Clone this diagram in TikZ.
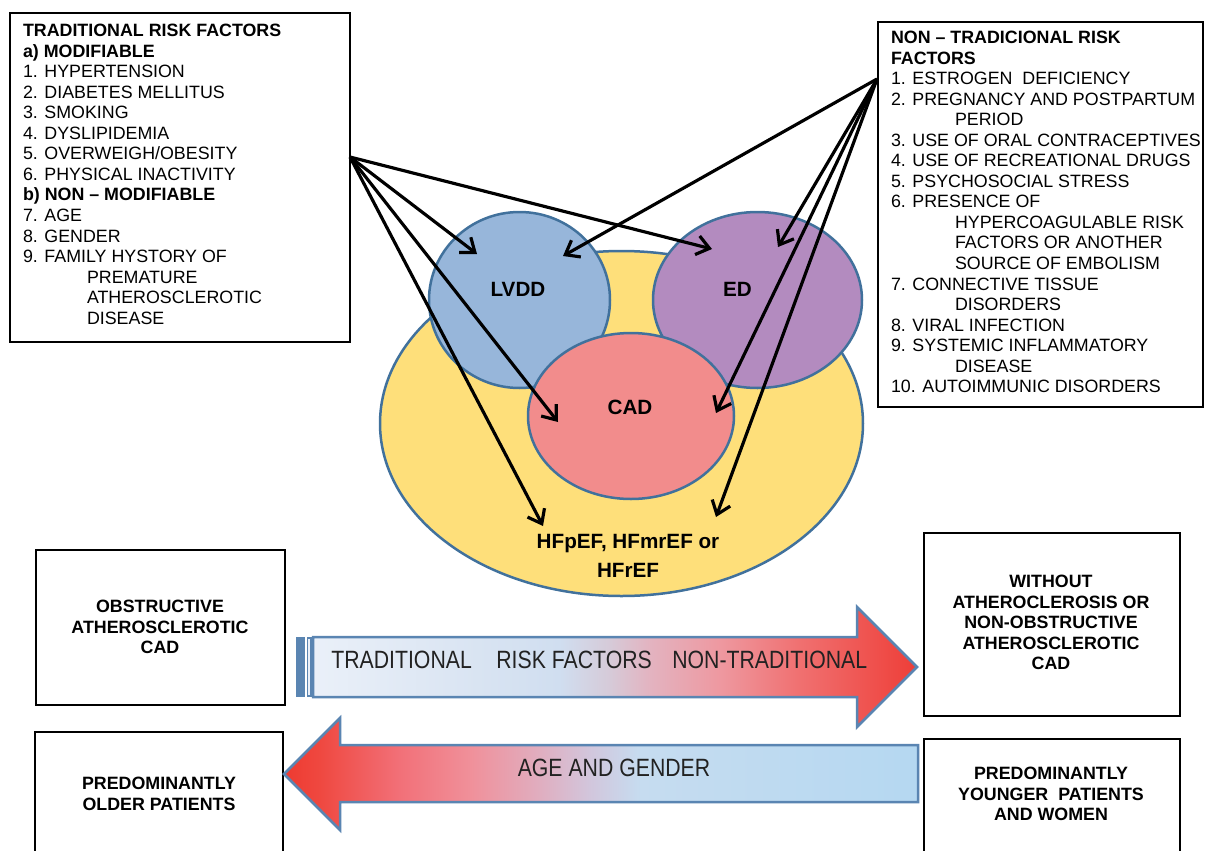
\documentclass[tikz,border=0pt]{standalone}
\usepackage{fontspec}
\setmainfont{Liberation Sans}
\newfontfamily\narrowfont[FakeStretch=0.85]{Liberation Sans}
\usetikzlibrary{shapes.geometric,arrows.meta}
\definecolor{outl}{HTML}{41719C}
\definecolor{yel}{HTML}{FEDF7A}
\definecolor{lvddc}{HTML}{97B6DA}
\definecolor{edc}{HTML}{B38BBF}
\definecolor{cadc}{HTML}{F28C8C}
\definecolor{arrowoutl}{HTML}{5A85B2}
\definecolor{arrtext}{HTML}{222222}
\definecolor{ra}{HTML}{EAF0F9}
\definecolor{rb}{HTML}{DCE6F3}
\definecolor{rc}{HTML}{D0DEF0}
\definecolor{rd}{HTML}{D6CAD8}
\definecolor{re}{HTML}{E3B3C0}
\definecolor{rf}{HTML}{EE98A0}
\definecolor{rg}{HTML}{F07070}
\definecolor{rh}{HTML}{EE3E38}
\definecolor{la}{HTML}{EE3A30}
\definecolor{lb}{HTML}{EF4840}
\definecolor{lc}{HTML}{F27078}
\definecolor{ld}{HTML}{F0909A}
\definecolor{le}{HTML}{E0AEC0}
\definecolor{lf}{HTML}{D2C6DC}
\definecolor{lg}{HTML}{C6DCF0}
\definecolor{lh}{HTML}{B5D8F1}
\pgfdeclarehorizontalshading{rgrad}{100bp}{color(0bp)=(ra); color(25bp)=(ra); color(36.3bp)=(rb); color(45.4bp)=(rc); color(49.6bp)=(rd); color(52.9bp)=(re); color(58.7bp)=(rf); color(65.3bp)=(rg); color(75bp)=(rh); color(100bp)=(rh)}
\pgfdeclarehorizontalshading{lgrad}{100bp}{color(0bp)=(la); color(25bp)=(la); color(27.8bp)=(lb); color(34.1bp)=(lc); color(39.7bp)=(ld); color(45.2bp)=(le); color(49.1bp)=(lf); color(53.1bp)=(lg); color(75bp)=(lh); color(100bp)=(lh)}
\newcommand\listfont{\fontsize{10.7}{12.33}\selectfont}
\newcommand\ind{\hspace*{38.4pt}}
\begin{document}
\begin{tikzpicture}[x=0.6pt,y=-0.6pt,
  box/.style={draw=black, line width=0.8pt, inner sep=0pt, outer sep=0pt, anchor=north west},
  blob/.style={ellipse, draw=outl, line width=1.5pt, inner sep=0pt, outer sep=0pt},
  conn/.style={draw=black, line width=1.9pt, -{Straight Barb[length=7.5pt,width=11.5pt]}},
  listtxt/.style={inner sep=0pt, outer sep=0pt, anchor=base west},
  boxtxt/.style={inner sep=0pt, align=center, font=\listfont\bfseries},
  blobtxt/.style={inner sep=0pt, align=center, font=\fontsize{12.4}{17.1}\selectfont\bfseries},
  arrtxt/.style={inner sep=0pt, text=arrtext, font=\narrowfont\fontsize{15}{18}\selectfont},
  bigarrow/.style={draw=arrowoutl, line width=1.5pt, line join=miter}]
\useasboundingbox (0,0) rectangle (1205,851);
\fill[white] (0,0) rectangle (1205,851);

% top text boxes
\node[box, minimum width=204pt, minimum height=197.4pt] (lbox) at (10,13) {};
\node[listtxt] (ltext) at (23,36.5) {\parbox[t]{205pt}{\listfont
\textbf{TRADITIONAL RISK FACTORS}\\
\textbf{a) MODIFIABLE}\\
1. HYPERTENSION\\
2. DIABETES MELLITUS\\
3. SMOKING\\
4. DYSLIPIDEMIA\\
5. OVERWEIGH/OBESITY\\
6. PHYSICAL INACTIVITY\\
\textbf{b) NON – MODIFIABLE}\\
7. AGE\\
8. GENDER\\
9. FAMILY HYSTORY OF\\
\ind PREMATURE\\
\ind ATHEROSCLEROTIC\\
\ind DISEASE}};

\node[box, minimum width=195pt, minimum height=231pt] (rbox) at (878,22) {};
\node[listtxt] (rtext) at (891,43.5) {\parbox[t]{195pt}{\listfont
\textbf{NON – TRADICIONAL RISK}\\
\textbf{FACTORS}\\
1. ESTROGEN\ \ DEFICIENCY\\
2. PREGNANCY AND POSTPARTUM\\
\ind PERIOD\\
3. USE OF ORAL CONTRACEPTIVES\\
4. USE OF RECREATIONAL DRUGS\\
5. PSYCHOSOCIAL STRESS\\
6. PRESENCE OF\\
\ind HYPERCOAGULABLE RISK\\
\ind FACTORS OR ANOTHER\\
\ind SOURCE OF EMBOLISM\\
7. CONNECTIVE TISSUE\\
\ind DISORDERS\\
8. VIRAL INFECTION\\
9. SYSTEMIC INFLAMMATORY\\
\ind DISEASE\\
10. AUTOIMMUNIC DISORDERS}};

% ellipses
\node[blob, fill=yel, minimum width=289.8pt, minimum height=207pt] (hf) at (621.5,423.5) {};
\node[blob, fill=lvddc, minimum width=108.6pt, minimum height=105.6pt] (lvdd) at (519.5,300) {};
\node[blob, fill=edc, minimum width=125.4pt, minimum height=105.6pt] (ed) at (757.5,300) {};
\node[blob, fill=cadc, minimum width=123.6pt, minimum height=99.6pt] (cad) at (631,416) {};

\node[blobtxt] (lvddt) at (518,289) {LVDD};
\node[blobtxt] (edt) at (737.5,289) {ED};
\node[blobtxt] (cadt) at (630,407) {CAD};
\node[blobtxt] (hft) at (628,556) {HFpEF, HFmrEF or\\HFrEF};

% connectors
\coordinate (ls) at (350,157);
\coordinate (rs) at (877,79);
\coordinate (lLV) at (477,254);
\coordinate (lED) at (712,249);
\coordinate (lCA) at (558,422);
\coordinate (lHF) at (543,526);
\coordinate (rLV) at (563,256);
\coordinate (rED) at (778,247);
\coordinate (rCA) at (716,413);
\coordinate (rHF) at (716,517);
\draw[conn] (ls) -- (lLV);
\draw[conn] (ls) -- (lED);
\draw[conn] (ls) -- (lCA);
\draw[conn] (ls) -- (lHF);
\draw[conn] (rs) -- (rLV);
\draw[conn] (rs) -- (rED);
\draw[conn] (rs) -- (rCA);
\draw[conn] (rs) -- (rHF);

% bottom boxes
\node[box, minimum width=149.4pt, minimum height=93pt] (obst) at (36,550) {};
\node[boxtxt] (obstt) at (160,627) {OBSTRUCTIVE\\ATHEROSCLEROTIC\\CAD};
\node[box, minimum width=153.6pt, minimum height=109.8pt] (nonob) at (924,533) {};
\node[boxtxt] (nonobt) at (1051,622.5) {WITHOUT\\ATHEROCLEROSIS OR\\NON-OBSTRUCTIVE\\ATHEROSCLEROTIC\\CAD};
\node[box, minimum width=148.8pt, minimum height=82.8pt] (older) at (35,732) {};
\node[boxtxt] (oldert) at (159,794) {PREDOMINANTLY\\OLDER PATIENTS};
\node[box, minimum width=153.6pt, minimum height=78.6pt] (younger) at (924,739) {};
\node[boxtxt] (youngert) at (1051,794) {PREDOMINANTLY\\YOUNGER\ \ PATIENTS\\AND WOMEN};

% big right arrow
\fill[arrowoutl] (296,637) rectangle (305,697);
\draw[arrowoutl, line width=0.8pt, fill=ra] (307.5,638) rectangle (311,696);
\shadedraw[shading=rgrad, bigarrow] (313,637) -- (857,637) -- (857,607) -- (917,667) -- (857,727) -- (857,697) -- (313,697) -- cycle;
\node[arrtxt, anchor=base west] (tr1) at (331,668) {TRADITIONAL};
\node[arrtxt, anchor=base west] (tr2) at (496,668) {RISK FACTORS};
\node[arrtxt, anchor=base west] (tr3) at (672,668) {NON-TRADITIONAL};

% big left arrow
\shadedraw[shading=lgrad, bigarrow] (284,774) -- (340,718) -- (340,745) -- (918,745) -- (918,802) -- (340,802) -- (340,830) -- cycle;
\node[arrtxt, anchor=base] (ag) at (614,776) {AGE AND GENDER};
\end{tikzpicture}
\end{document}
